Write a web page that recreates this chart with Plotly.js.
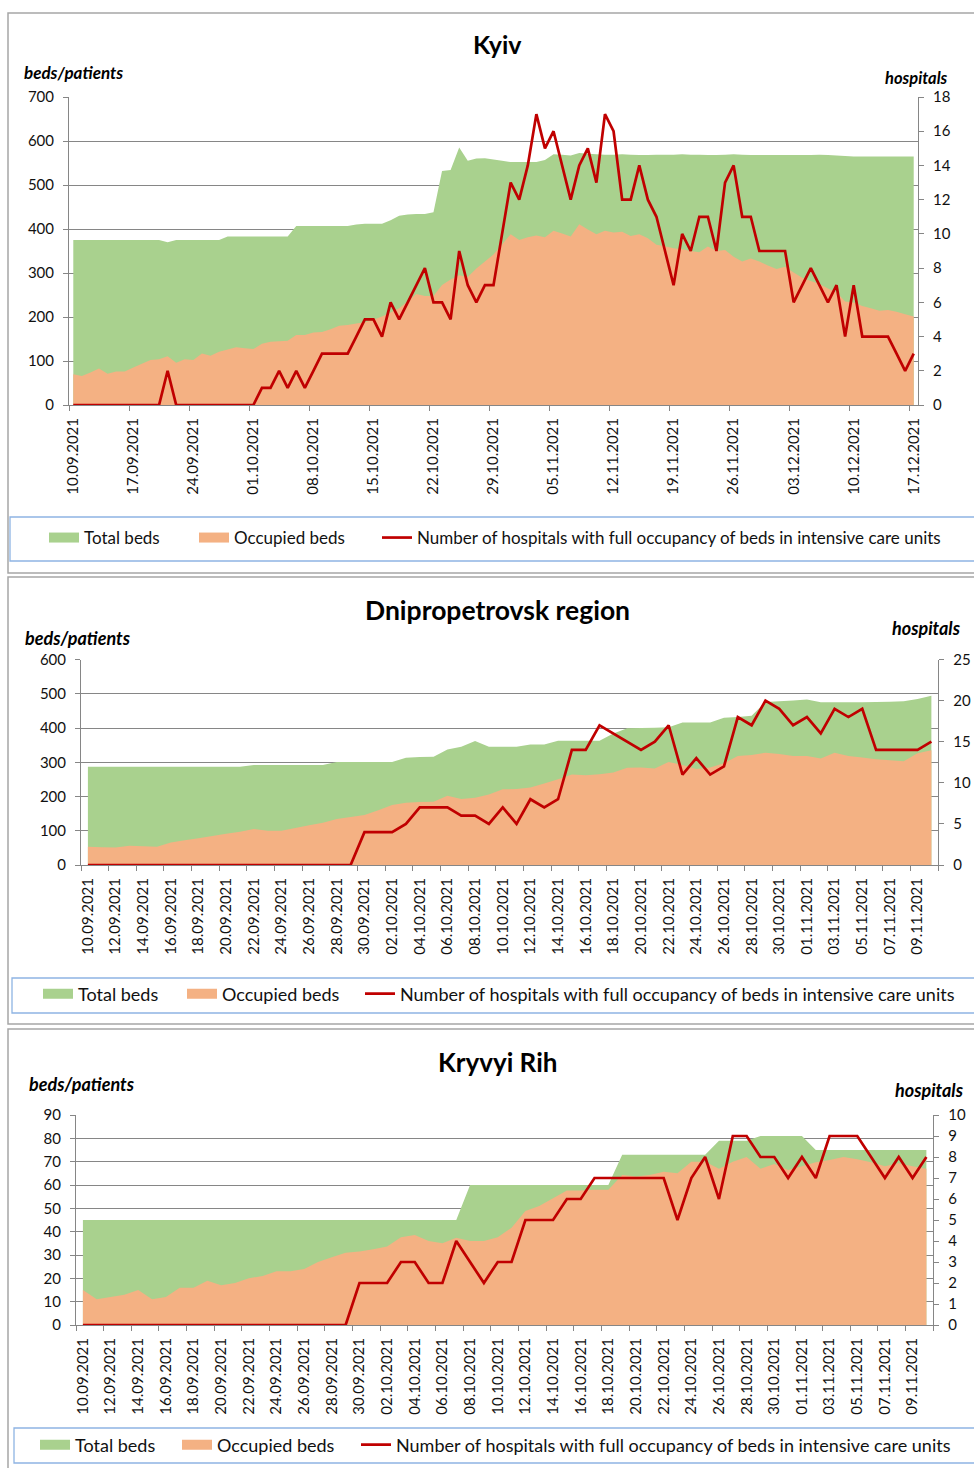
<!DOCTYPE html>
<html><head><meta charset="utf-8">
<script src="https://cdn.plot.ly/plotly-3.0.1.min.js"></script>
<style>html,body{margin:0;padding:0;background:#fff}</style>
</head><body><div id="chart" style="width:974px;height:1468px"></div>
<script>
// ---------------- DATA ----------------
const kyivStart = '2021-09-10', kyivDays = 99;
const dniproStart = '2021-09-10', dniproDays = 62;
const kryvyiStart = '2021-09-10', kryvyiDays = 62;

const kyivTotal = [375,375,375,375,375,375,375,375,375,375,375,370,375,375,375,375,375,375,383,383,383,383,383,383,383,383,407,407,407,407,407,407,407,410,412,412,412,420,430,433,434,434,438,532,534,585,555,560,561,558,555,552,552,552,552,557,570,569,567,573,571,570,
569,569,570,569,568,568,569,569,569,570,569,569,568,568,569,570,569,568,568,568,568,568,568,568,568,569,568,567,566,565,565,565,565,565,565,565,565];
const kyivOccupied = [70,66,74,83,71,76,76,85,94,102,104,111,96,104,102,117,112,121,126,131,129,127,139,144,145,146,159,159,165,166,172,180,182,185,188,194,201,210,220,236,252,248,248,273,285,295,291,310,326,342,365,388,375,381,385,381,396,390,383,411,399,388,396,392,394,384,388,379,364,361,356,354,350,347,360,350,352,337,326,333,326,317,309,314,301,289,282,275,265,256,235,233,225,220,214,216,212,206,201];
const kyivHospitals = [0,0,0,0,0,0,0,0,0,0,0,2,0,0,0,0,0,0,0,0,0,0,1,1,2,1,2,1,2,3,3,3,3,4,5,5,4,6,5,6,7,8,6,6,5,9,7,6,7,7,10,13,12,14,17,15,16,14,12,14,15,13,17,16,12,12,14,12,11,9,7,10,9,11,11,9,13,14,11,11,9,9,9,9,6,7,8,7,6,7,4,7,4,4,4,4,3,2,3];

const dniproTotal = [287,287,287,287,287,287,287,287,287,287,287,287,292,292,292,292,292,292,301,301,301,301,301,313,315,316,337,345,362,345,345,345,352,352,363,363,363,363,384,399,400,401,402,416,416,416,430,432,436,476,478,480,483,475,475,475,475,476,477,478,485,494];
const dniproOccupied = [53,52,51,56,55,53,66,72,78,85,91,97,105,100,100,108,116,123,134,140,146,160,175,182,184,185,202,193,196,206,221,222,226,238,250,264,262,265,270,284,285,282,301,292,280,285,297,318,321,328,324,318,318,311,328,318,314,309,306,303,326,335];
const dniproHospitals = [0,0,0,0,0,0,0,0,0,0,0,0,0,0,0,0,0,0,0,0,4,4,4,5,7,7,7,6,6,5,7,5,8,7,8,14,14,17,16,15,14,15,17,11,13,11,12,18,17,20,19,17,18,16,19,18,19,14,14,14,14,15];

const kryvyiTotal = [45,45,45,45,45,45,45,45,45,45,45,45,45,45,45,45,45,45,45,45,45,45,45,45,45,45,45,45,60,60,60,60,60,60,60,60,60,60,60,73,73,73,73,73,73,73,79,79,79,81,81,81,81,75,75,75,75,75,75,75,75,75];
const kryvyiOccupied = [15,11,12,13,15,11,12,16,16,19,17,18,20,21,23,23,24,27,29,31,31.5,32.5,33.6,37.6,38.6,36,35,37.4,36,36,37.6,41.7,48.9,51,54.3,57.6,57.6,58,58,64.3,63.6,64.3,65.7,65,70,70,67,70,72,67,69,66.4,68,69.7,70.7,72,71,69.7,68,69.3,68,67];
const kryvyiHospitals = [0,0,0,0,0,0,0,0,0,0,0,0,0,0,0,0,0,0,0,0,2,2,2,3,3,2,2,4,3,2,3,3,5,5,5,6,6,7,7,7,7,7,7,5,7,8,6,9,9,8,8,7,8,7,9,9,9,8,7,8,7,8];

const titles = ['Kyiv', 'Dnipropetrovsk region', 'Kryvyi Rih'];
const seriesNames = ['Total beds', 'Occupied beds', 'Number of hospitals with full occupancy of beds in intensive care units'];
const leftTitle = 'beds/patients', rightTitle = 'hospitals';

// ---------------- HELPERS ----------------
function makeDates(start, n) {
  const out = [];
  const d0 = new Date(start + 'T00:00:00Z');
  for (let i = 0; i < n; i++) {
    const d = new Date(d0.getTime() + i * 86400000);
    const dd = String(d.getUTCDate()).padStart(2, '0');
    const mm = String(d.getUTCMonth() + 1).padStart(2, '0');
    out.push(dd + '.' + mm + '.' + d.getUTCFullYear());
  }
  return out;
}
const W = 974, H = 1468;
const X = px => px / W;
const Y = py => 1 - py / H;

const GREEN = '#A9D18E', ORANGE = '#F4B183', RED = '#C00000';
const AX = '#868686';
const FONT = 'Lato, "Open Sans", sans-serif';
const TXT = '#111111';

const kyivDates = makeDates(kyivStart, kyivDays);
const dniproDates = makeDates(dniproStart, dniproDays);
const kryvyiDates = makeDates(kryvyiStart, kryvyiDays);

const panels = [
  {dates: kyivDates, total: kyivTotal, occ: kyivOccupied, hosp: kyivHospitals,
   xd: [69, 918], yd: [97, 405], yl: [0, 700, 100], yr: [0, 18, 2], dtick: 7,
   title: [497, 44, 25], lt: [22, 73, 17], rt: [950, 78, 16.5],
   leg: [50, 200, 383, 538, 17], tickfs: 15},
  {dates: dniproDates, total: dniproTotal, occ: dniproOccupied, hosp: dniproHospitals,
   xd: [81, 938.3], yd: [659.5, 865], yl: [0, 600, 100], yr: [0, 25, 5], dtick: 2,
   title: [497, 610, 26.5], lt: [23, 638, 18], rt: [963, 628, 18],
   leg: [44, 188, 366, 994, 18], tickfs: 15},
  {dates: kryvyiDates, total: kryvyiTotal, occ: kryvyiOccupied, hosp: kryvyiHospitals,
   xd: [76, 933.3], yd: [1115, 1325], yl: [0, 90, 10], yr: [0, 10, 1], dtick: 2,
   title: [497, 1062, 26], lt: [27, 1084, 18], rt: [966, 1090, 18],
   leg: [41, 183, 362, 1445, 18], tickfs: 15}
];

const data = [];
const layout = {
  width: W, height: H, autosize: false,
  margin: {l: 0, r: 0, t: 0, b: 0},
  paper_bgcolor: '#fff', plot_bgcolor: 'rgba(0,0,0,0)',
  font: {family: FONT, color: TXT},
  showlegend: true,
  annotations: [], shapes: []
};

panels.forEach((p, i) => {
  const xa = i === 0 ? 'x' : 'x' + (i + 1);
  const ylA = 'y' + (i === 0 ? '' : (2 * i + 1));
  const yrA = 'y' + (2 * i + 2);
  const xKey = 'xaxis' + (i === 0 ? '' : (i + 1));
  const ylKey = 'yaxis' + (i === 0 ? '' : (2 * i + 1));
  const yrKey = 'yaxis' + (2 * i + 2);
  const legBase = 3 * i;
  const legName = k => { const n = legBase + k + 1; return n === 1 ? 'legend' : 'legend' + n; };

  data.push({x: p.dates, y: p.total, xaxis: xa, yaxis: ylA, type: 'scatter', mode: 'none',
    fill: 'tozeroy', fillcolor: GREEN, showlegend: false, hoverinfo: 'skip'});
  data.push({x: p.dates, y: p.occ, xaxis: xa, yaxis: ylA, type: 'scatter', mode: 'none',
    fill: 'tozeroy', fillcolor: ORANGE, showlegend: false, hoverinfo: 'skip'});
  data.push({x: p.dates, y: p.hosp, xaxis: xa, yaxis: yrA, type: 'scatter', mode: 'lines',
    line: {color: RED, width: 2.7}, name: seriesNames[2], showlegend: true, legend: legName(2)});
  // legend swatches
  data.push({x: [null], y: [null], xaxis: xa, yaxis: ylA, type: 'scatter', mode: 'lines',
    line: {color: GREEN, width: 10}, name: seriesNames[0], showlegend: true, legend: legName(0)});
  data.push({x: [null], y: [null], xaxis: xa, yaxis: ylA, type: 'scatter', mode: 'lines',
    line: {color: ORANGE, width: 10}, name: seriesNames[1], showlegend: true, legend: legName(1)});

  layout[xKey] = {
    type: 'category', categoryorder: 'array', categoryarray: p.dates,
    domain: [X(p.xd[0]), X(p.xd[1])], anchor: ylA,
    range: [-0.5, p.dates.length - 0.5],
    tickmode: 'linear', tick0: 0, dtick: p.dtick, tickson: 'boundaries',
    ticks: 'outside', ticklen: 5, tickcolor: AX, tickwidth: 1,
    tickangle: -90, tickfont: {size: p.tickfs, color: TXT, family: FONT},
    ticklabelstandoff: 6,
    showline: true, linecolor: AX, linewidth: 1, showgrid: false, zeroline: false,
    fixedrange: true
  };
  layout[ylKey] = {
    domain: [Y(p.yd[1]), Y(p.yd[0])], anchor: xa,
    range: [p.yl[0], p.yl[1]], tickmode: 'linear', tick0: 0, dtick: p.yl[2],
    ticks: 'outside', ticklen: 5, tickcolor: AX, tickwidth: 1,
    tickfont: {size: 15, color: TXT, family: FONT}, ticklabelstandoff: 6,
    showline: true, linecolor: AX, linewidth: 1,
    showgrid: true, gridcolor: AX, gridwidth: 1, zeroline: false, fixedrange: true
  };
  layout[yrKey] = {
    overlaying: ylA, side: 'right', anchor: xa,
    range: [p.yr[0], p.yr[1]], tickmode: 'linear', tick0: 0, dtick: p.yr[2],
    ticks: 'outside', ticklen: 5, tickcolor: AX, tickwidth: 1,
    tickfont: {size: 15, color: TXT, family: FONT}, ticklabelstandoff: 6,
    showline: true, linecolor: AX, linewidth: 1,
    showgrid: false, zeroline: false, fixedrange: true
  };

  // legends
  [p.leg[0], p.leg[1], p.leg[2]].forEach((lx, k) => {
    layout[legName(k)] = {
      x: X(lx - 6), y: Y(p.leg[3]), xanchor: 'left', yanchor: 'middle',
      orientation: 'h', bgcolor: 'rgba(0,0,0,0)', borderwidth: 0,
      font: {family: FONT, size: p.leg[4], color: TXT}, itemclick: false, itemdoubleclick: false
    };
  });

  layout.annotations.push({text: '<b>' + titles[i] + '</b>', x: X(p.title[0]), y: Y(p.title[1]),
    xref: 'paper', yref: 'paper', xanchor: 'center', yanchor: 'middle', showarrow: false,
    font: {family: FONT, size: p.title[2], color: '#000'}});
  layout.annotations.push({text: '<b><i>' + leftTitle + '</i></b>', x: X(p.lt[0]), y: Y(p.lt[1]),
    xref: 'paper', yref: 'paper', xanchor: 'left', yanchor: 'middle', showarrow: false,
    font: {family: FONT, size: p.lt[2], color: '#000'}});
  layout.annotations.push({text: '<b><i>' + rightTitle + '</i></b>', x: X(p.rt[0]), y: Y(p.rt[1]),
    xref: 'paper', yref: 'paper', xanchor: 'right', yanchor: 'middle', showarrow: false,
    font: {family: FONT, size: p.rt[2], color: '#000'}});
});

// panel frames & legend boxes
const frames = [[8, 13, 573], [8, 577, 1024], [8, 1029, 1480]];
frames.forEach(f => layout.shapes.push({type: 'rect', xref: 'paper', yref: 'paper',
  x0: X(f[0]), x1: X(1000), y0: Y(f[2]), y1: Y(f[1]), line: {color: '#A6A6A6', width: 1.5}, layer: 'below'}));
const legBoxes = [[10, 517, 561], [12, 978, 1013], [14, 1428, 1463]];
legBoxes.forEach(f => layout.shapes.push({type: 'rect', xref: 'paper', yref: 'paper',
  x0: X(f[0]), x1: X(1000), y0: Y(f[2]), y1: Y(f[1]), line: {color: '#8EB4E3', width: 1.3}, layer: 'below'}));

Plotly.newPlot('chart', data, layout, {staticPlot: true, displayModeBar: false});
</script>
</body></html>
